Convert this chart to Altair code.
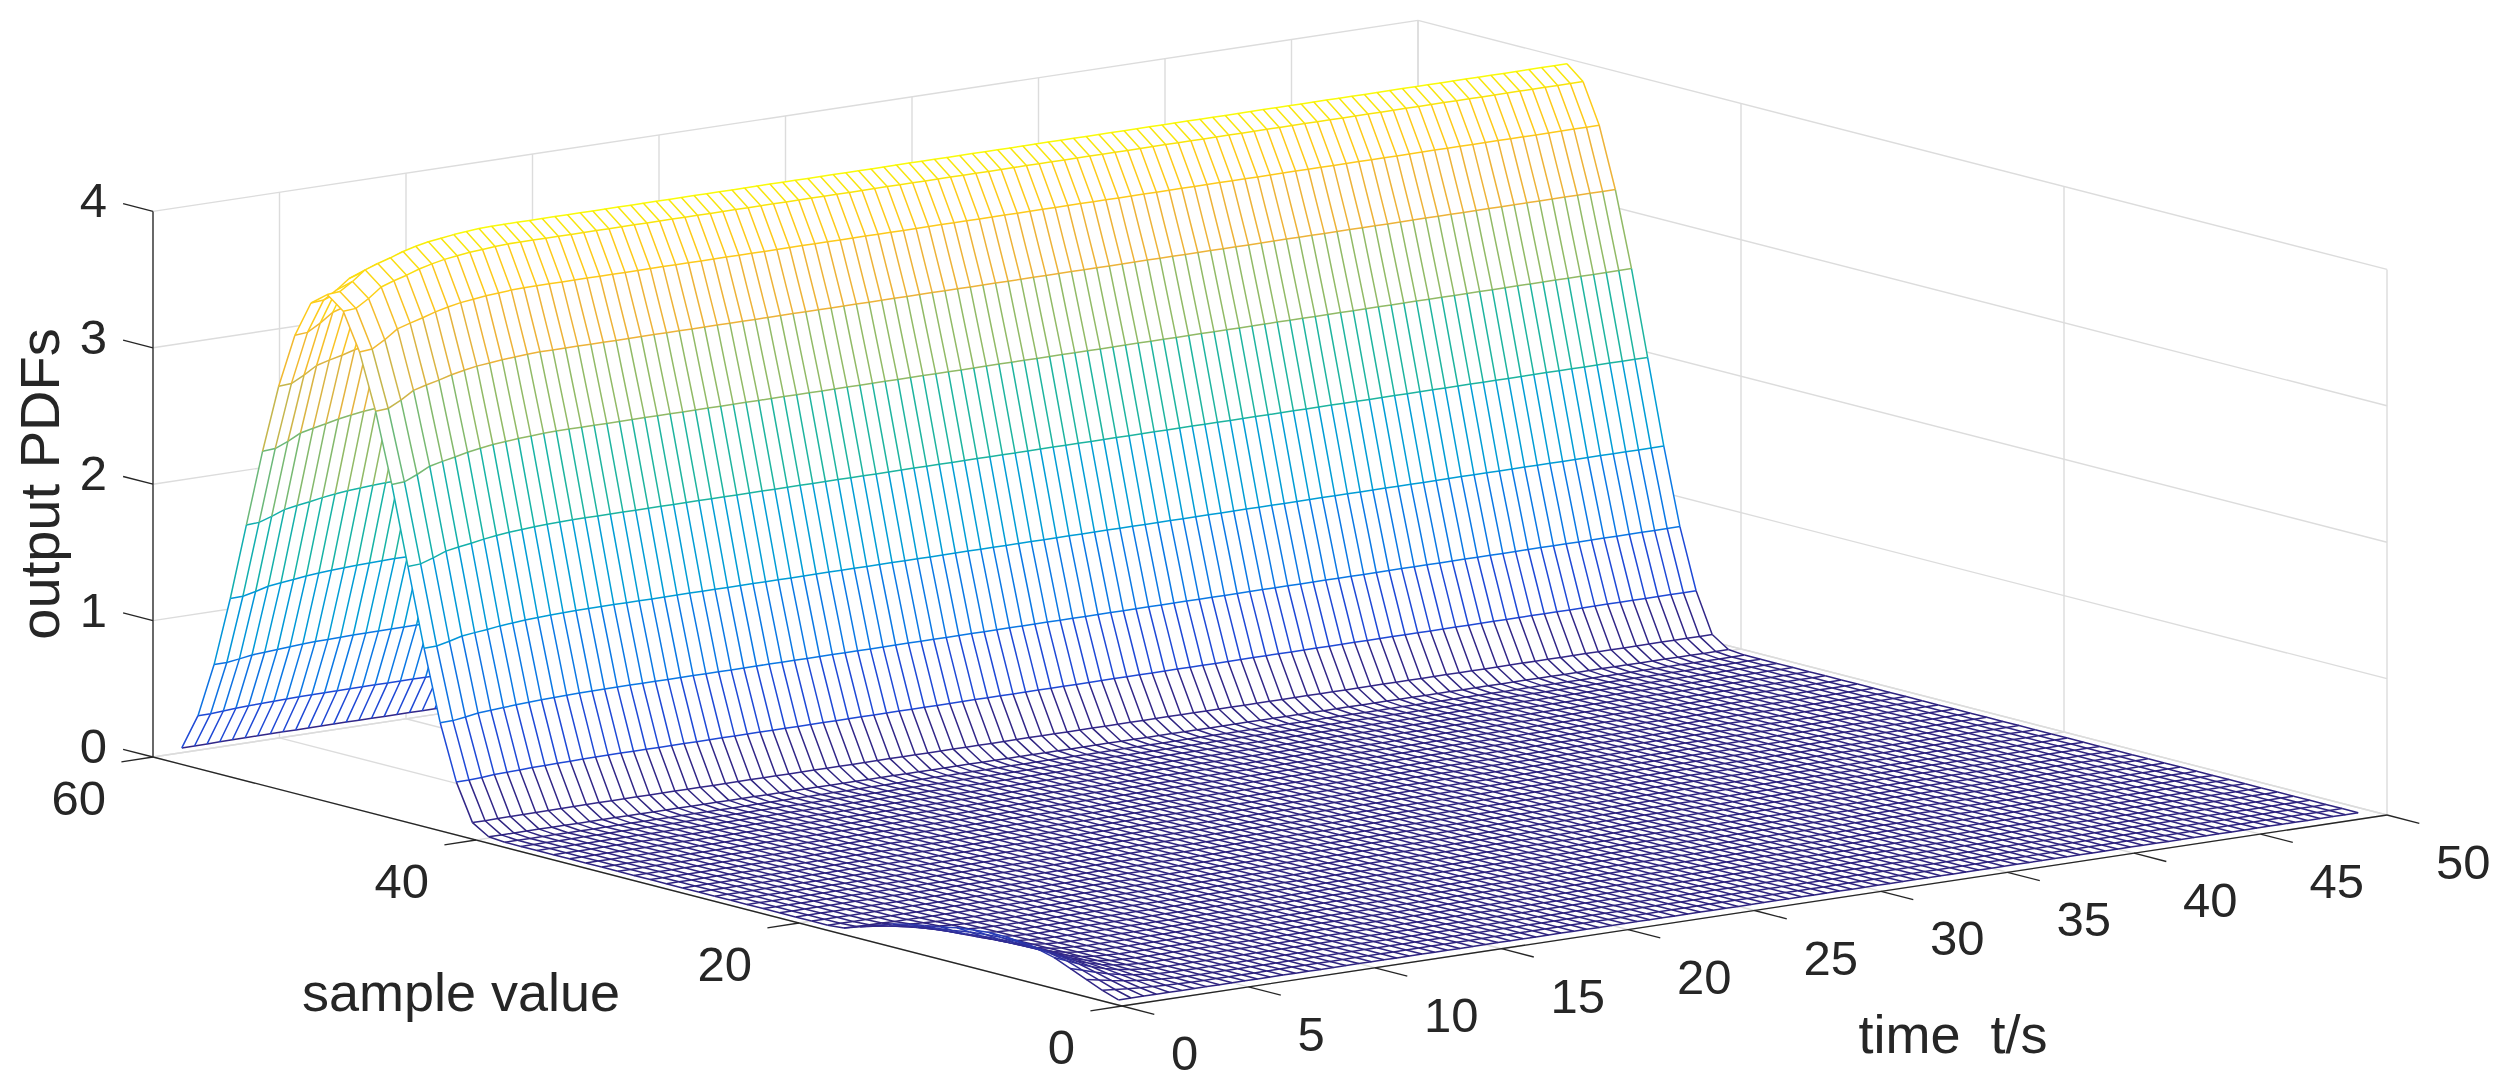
import altair as alt
import numpy as np
import pandas as pd

alt.data_transformers.disable_max_rows()

# time steps of the mesh (0.5 s) and sample values
time_values = [0.5 * k for k in range(1, 100)]
sample_values = list(range(1, 60))

wall_samples = list(range(40, 60))
wall_pdf = [0.01, 0.09, 0.38, 0.82, 1.38, 2.0, 2.62, 3.17, 3.61, 3.9, 4.0,
            3.9, 3.61, 3.17, 2.62, 2.0, 1.38, 0.82, 0.38, 0.09]

# how far the wall has grown in the first seconds (1.0 afterwards)
ramp_times = [0.5, 1.0, 1.5, 2.0, 2.5, 3.0, 3.5, 4.0, 4.5, 5.0, 5.5, 6.0, 6.5]
ramp_scale = [0.92, 0.922, 0.937, 0.955, 0.963, 0.97, 0.978, 0.984, 0.989, 0.992, 0.995, 0.997, 0.999]

# small start-up bump at low sample values, dies out after ~5 s
bump_samples = list(range(1, 19))
bump_pdf = [0.0, 0.04, 0.09, 0.14, 0.19, 0.22, 0.24, 0.25, 0.25, 0.24, 0.225, 0.2, 0.18, 0.16, 0.13, 0.09, 0.05, 0.01]
bump_times = [0.5, 1.0, 1.5, 2.0, 2.5, 3.0, 3.5, 4.0, 4.5]
bump_decay = [1.0, 0.8, 0.6, 0.42, 0.28, 0.17, 0.09, 0.04, 0.015]

z_ticks = [0, 1, 2, 3, 4]
s_ticks = [0, 20, 40, 60]
t_ticks = [0, 5, 10, 15, 20, 25, 30, 35, 40, 45, 50]

# colormap as seen on the rows of the mesh
color_stops = [0, 0.02, 0.095, 0.205, 0.345, 0.5, 0.655, 0.79, 0.9, 0.975, 1.0]
color_hex = ["#2f2480", "#33288a", "#1f49d6", "#0b78e4", "#009cd6", "#18b4a2",
             "#94ba64", "#ecb23a", "#fdc81c", "#f8e80a", "#f9fb0a"]


def project(t, s, z):
    # view of the 3d box, in page pixels
    x = 1122 + 25.3 * t - 16.15 * s
    y = 1006 - 3.82 * t - 4.15 * s - 136.4 * z
    return round(x, 1), round(y, 1)


stop_rgb = np.array([[int(c[i:i + 2], 16) for i in (1, 3, 5)] for c in color_hex], dtype=float)


def z_color(z):
    f = round(min(z / 4.0, 1.0) * 63) / 63
    rgb = [int(round(np.interp(f, color_stops, stop_rgb[:, k]))) for k in range(3)]
    return "#%02x%02x%02x" % tuple(rgb)


def build_z():
    z = np.zeros((len(sample_values), len(time_values)))
    for i, s in enumerate(sample_values):
        wall = wall_pdf[wall_samples.index(s)] if s in wall_samples else 0.0
        bump = bump_pdf[bump_samples.index(s)] if s in bump_samples else 0.0
        for j, t in enumerate(time_values):
            scale = ramp_scale[ramp_times.index(t)] if t in ramp_times else 1.0
            decay = bump_decay[bump_times.index(t)] if t in bump_times else 0.0
            z[i, j] = wall * scale + bump * decay
    return z


Z = build_z()
mesh_rows = []
piece = 0


def add_piece(points, fill, stroke):
    global piece
    piece += 1
    for v, p in enumerate(points):
        if p is None:
            mesh_rows.append((None, None, piece, v, fill, stroke))
        else:
            mesh_rows.append((p[0], p[1], piece, v, fill, stroke))


def add_row(i):
    # line along time, split where the colour changes
    s = sample_values[i]
    run, color = [], None
    for j in range(len(time_values) - 1):
        c = z_color(Z[i, j])
        a = project(time_values[j], s, Z[i, j])
        b = project(time_values[j + 1], s, Z[i, j + 1])
        if c != color:
            if run:
                add_piece(run, "transparent", color)
            run, color = [a], c
        run.append(b)
    add_piece(run, "transparent", color)


# painter's order: far rows first, every strip is white and hides what is behind
for i in range(len(sample_values) - 2, -1, -1):
    s0, s1 = sample_values[i], sample_values[i + 1]
    near = [project(t, s0, Z[i, j]) for j, t in enumerate(time_values)]
    far = [project(t, s1, Z[i + 1, j]) for j, t in enumerate(time_values)]
    add_piece(near + far[::-1], "white", "transparent")
    add_row(i + 1)
    ribs = {}
    for j in range(len(time_values)):
        ribs.setdefault(z_color(Z[i, j]), []).extend([near[j], far[j], None])
    for c, pts in ribs.items():
        add_piece(pts, "transparent", c)
add_row(0)

mesh_df = pd.DataFrame(mesh_rows, columns=["x", "y", "p", "v", "f", "c"])

# grid on the back walls and the floor
grid_rows = []
for g, (a, b) in enumerate(
    [((t, 60, 0), (t, 0, 0)) for t in t_ticks]
    + [((0, s, 0), (50, s, 0)) for s in s_ticks]
    + [((t, 60, 0), (t, 60, 4)) for t in t_ticks]
    + [((50, s, 0), (50, s, 4)) for s in s_ticks]
    + [((0, 60, z), (50, 60, z)) for z in z_ticks]
    + [((50, 60, z), (50, 0, z)) for z in z_ticks]
):
    for v, p in enumerate((a, b)):
        x, y = project(*p)
        grid_rows.append({"x": x, "y": y, "g": g, "v": v})
grid_df = pd.DataFrame(grid_rows)

# axis lines and tick marks
axis_rows = []
segments = [((0, 60, 0), (0, 60, 4)), ((0, 60, 0), (0, 0, 0)), ((0, 0, 0), (50, 0, 0))]
segments += [((0, 60, z), (0, 61.85, z)) for z in z_ticks]
segments += [((0, s, 0), (-1.25, s, 0)) for s in s_ticks]
segments += [((t, 0, 0), (t, -2, 0)) for t in t_ticks]
for g, (a, b) in enumerate(segments):
    for v, p in enumerate((a, b)):
        x, y = project(*p)
        axis_rows.append({"x": x, "y": y, "g": g, "v": v})
axis_df = pd.DataFrame(axis_rows)


def tick_table(points, labels):
    xy = [project(*p) for p in points]
    return pd.DataFrame({"x": [q[0] for q in xy], "y": [q[1] for q in xy], "label": labels})


z_df = tick_table([(0, 60, z) for z in z_ticks], [str(z) for z in z_ticks])
s_df = tick_table([(0, s, 0) for s in s_ticks], [str(s) for s in s_ticks])
t_df = tick_table([(t, 0, 0) for t in t_ticks], [str(t) for t in t_ticks])

x_scale = alt.Scale(domain=[8, 2493], nice=False, zero=False)
y_scale = alt.Scale(domain=[1081, 8], nice=False, zero=False)
X = alt.X("x:Q", scale=x_scale, axis=None)
Y = alt.Y("y:Q", scale=y_scale, axis=None)

grid = alt.Chart(grid_df).mark_line(color="#dcdcdc", strokeWidth=1.4).encode(
    x=X, y=Y, detail="g:N", order="v:Q"
)
axes = alt.Chart(axis_df).mark_line(color="#262626", strokeWidth=1.3).encode(
    x=X, y=Y, detail="g:N", order="v:Q"
)
mesh = alt.Chart(mesh_df).mark_line(strokeWidth=1.5).encode(
    x=X,
    y=Y,
    detail="p:N",
    order="v:Q",
    fill=alt.Fill("f:N", scale=None),
    stroke=alt.Stroke("c:N", scale=None),
)


def tick_text(df, align, dx, dy):
    return alt.Chart(df).mark_text(
        font="Liberation Sans", fontSize=49, color="#262626", align=align, baseline="middle", dx=dx, dy=dy
    ).encode(x=X, y=Y, text="label:N")


z_text = tick_text(z_df, "right", -46, -9)
s_text = tick_text(s_df, "right", -47, 43)
t_text = tick_text(t_df, "left", 49, 49)


def title_text(label, px, py, angle=0, size=54):
    return alt.Chart(pd.DataFrame({"label": [label]})).mark_text(
        font="Liberation Sans", fontSize=size, color="#262626", align="center", baseline="middle", angle=angle
    ).encode(x=alt.value(px), y=alt.value(py), text="label:N")


chart = alt.layer(
    grid,
    axes,
    mesh,
    z_text,
    s_text,
    t_text,
    title_text("output PDFs", 34, 476, angle=270, size=56),
    title_text("sample value", 453, 987),
    title_text("time\u00a0\u00a0t/s", 1945, 1029),
).properties(width=2485, height=1073, padding=0).configure_view(strokeWidth=0)

chart.save("out.html", embed_options={"renderer": "svg", "actions": False})
